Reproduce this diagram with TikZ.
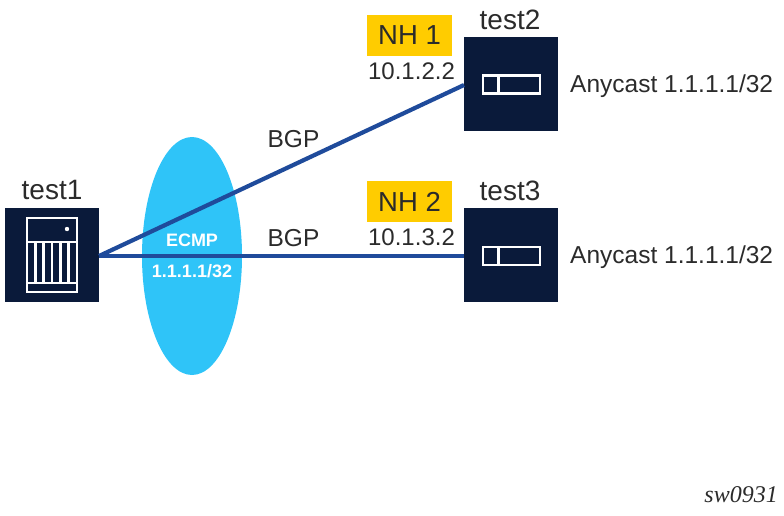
\documentclass[tikz,border=0pt]{standalone}
\usepackage{fontspec}
\usetikzlibrary{shapes.geometric}
\setmainfont{Liberation Sans}
\newfontfamily\serifit{Liberation Serif}
\definecolor{navy}{HTML}{0A1A3A}
\definecolor{linkblue}{HTML}{1F4B9B}
\definecolor{ecmpblue}{HTML}{2FC4F8}
\definecolor{nhyellow}{HTML}{FFCC00}
\definecolor{txt}{HTML}{2B2B2B}
\tikzset{
  devbox/.style={draw=none,fill=navy,minimum width=94pt,minimum height=94pt,inner sep=0pt,outer sep=0pt},
  link/.style={draw=linkblue,line width=4.2pt},
  icon/.style={draw=white,line width=2.7pt},
  lbl/.style={font=\fontsize{24.5}{26}\selectfont,text=txt,inner sep=0pt},
  iplbl/.style={font=\fontsize{24}{26}\selectfont,text=txt,inner sep=0pt},
  testlbl/.style={font=\fontsize{28}{30}\selectfont,text=txt,inner sep=0pt},
  nhbox/.style={fill=nhyellow,minimum width=85pt,minimum height=41pt,inner sep=0pt,font=\fontsize{27.5}{30}\selectfont,text=txt},
  ecmp/.style={font=\bfseries\fontsize{18}{20}\selectfont,text=white,inner sep=0pt}
}
\begin{document}
\begin{tikzpicture}[x=1pt,y=-1pt]
\useasboundingbox (0,0) rectangle (784,515);
\node[ellipse,fill=ecmpblue,minimum width=100pt,minimum height=238pt,inner sep=0pt] at (192,256) (cloud) {};
\node[devbox] (test1) at (52,255) {};
\node[devbox] (test2) at (511,84) {};
\node[devbox] (test3) at (511,255) {};
\coordinate (p1) at ([yshift=-1pt]test1.east);
\coordinate (p2) at ([yshift=-1pt]test2.west);
\coordinate (p3) at ([yshift=-1pt]test3.west);
\draw[link] (p1) -- (p2);
\draw[link] (p1) -- (p3);
% server icon
\draw[icon] (27,218) rectangle (77,292);
\draw[icon] (27,242) -- (77,242);
\draw[icon] (27,283) -- (77,283);
\foreach \x in {35.3,43.6,52,60.3,68.6} \draw[icon] (\x,242) -- (\x,283);
\fill[white] (67,229) circle (2.2pt);
% router icons
\draw[icon] (483,75.5) rectangle (540,93.5);
\draw[icon] (498.5,75.5) -- (498.5,93.5);
\draw[icon] (483,247) rectangle (540,265);
\draw[icon] (498.5,247) -- (498.5,265);
\node[testlbl] (t1) at (52,190) {test1};
\node[testlbl] (t2) at (510,20) {test2};
\node[testlbl] (t3) at (510,191) {test3};
\node[nhbox] (nh1) at (409.5,35.5) {NH 1};
\node[nhbox] (nh2) at (409.5,201.5) {NH 2};
\node[iplbl] (ip1) at (411.5,71.5) {10.1.2.2};
\node[iplbl] (ip2) at (411.5,237.5) {10.1.3.2};
\node[lbl] (bgp1) at (293.5,139) {BGP};
\node[lbl] (bgp2) at (293.5,238) {BGP};
\node[lbl,anchor=west] (any1) at (570,86.5) {Anycast 1.1.1.1/32};
\node[lbl,anchor=west] (any2) at (570,257.5) {Anycast 1.1.1.1/32};
\node[ecmp] (e1) at (192,240) {ECMP};
\node[ecmp] (e2) at (192,271) {1.1.1.1/32};
\node[anchor=east,inner sep=0pt,text=txt,font=\serifit\itshape\fontsize{24}{26}\selectfont] (sw) at (778,494.5) {sw0931};
\end{tikzpicture}
\end{document}
